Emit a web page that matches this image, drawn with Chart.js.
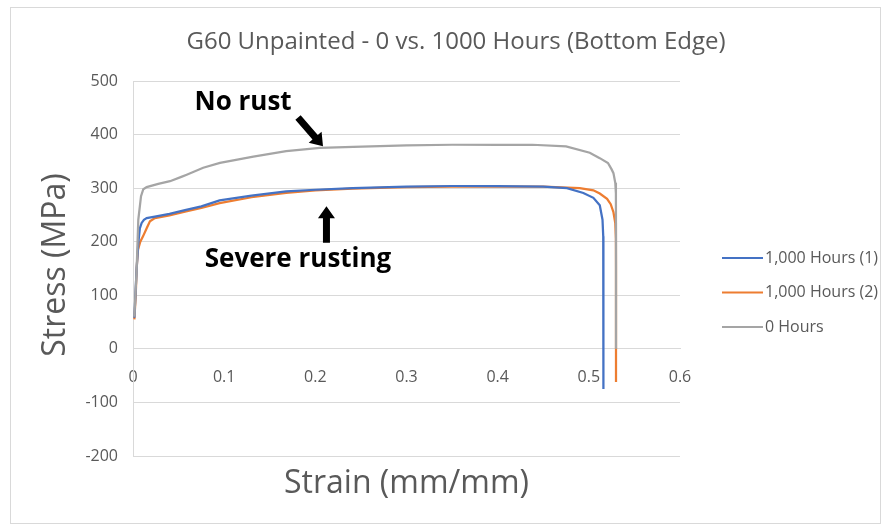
<!DOCTYPE html>
<html>
<head>
<meta charset="utf-8">
<script src="https://cdn.jsdelivr.net/npm/chart.js@4/dist/chart.umd.min.js"></script>
<style>
  html, body { margin: 0; padding: 0; background: #fff; }
  #wrap { position: relative; width: 886px; height: 525px; }
</style>
</head>
<body>
<div id="wrap"><canvas id="c"></canvas></div>
<script>
const TITLE = "G60 Unpainted - 0 vs. 1000 Hours (Bottom Edge)";
const X_TITLE = "Strain (mm/mm)";
const Y_TITLE = "Stress (MPa)";
const SERIES_NAMES = ["1,000 Hours (1)", "1,000 Hours (2)", "0 Hours"];

// 1,000 hours, specimen 1 (blue)
const strainH1 = [0.0015, 0.004, 0.0058, 0.0075, 0.0095, 0.012, 0.015, 0.024, 0.04, 0.057, 0.075, 0.095, 0.13, 0.168, 0.2, 0.241, 0.3, 0.35, 0.4, 0.45, 0.476, 0.494, 0.505, 0.512, 0.515, 0.5158, 0.516, 0.516];
const stressH1 = [58, 150, 197, 225, 235, 241, 244, 247, 252, 259, 266, 277, 286, 294, 297, 300, 303, 304, 304, 303, 300, 291, 282, 268, 241, 210, 150, -75];

// 1,000 hours, specimen 2 (orange)
const strainH2 = [0.0015, 0.003, 0.004, 0.0055, 0.008, 0.011, 0.015, 0.0186, 0.024, 0.04, 0.057, 0.075, 0.095, 0.13, 0.168, 0.2, 0.241, 0.3, 0.35, 0.4, 0.45, 0.49, 0.505, 0.512, 0.52, 0.524, 0.527, 0.529, 0.5297, 0.5298, 0.5298];
const stressH2 = [55, 100, 150, 185, 200, 210, 225, 238, 244, 249, 256, 263, 272, 283, 291, 296, 299, 302, 303, 303, 303, 300, 296, 290, 280, 270, 255, 235, 205, 150, -62];

// 0 hours (gray)
const strainH0 = [0.0015, 0.004, 0.0058, 0.0088, 0.0113, 0.015, 0.0277, 0.0406, 0.053, 0.0589, 0.077, 0.0954, 0.132, 0.168, 0.205, 0.2416, 0.3, 0.35, 0.4, 0.438, 0.475, 0.501, 0.512, 0.521, 0.525, 0.527, 0.529, 0.5297, 0.5298, 0.5298];
const stressH0 = [60, 148, 241, 285, 298, 302, 308, 313, 321, 325, 338, 347, 359, 369, 375, 377, 380, 381, 381, 381, 378, 366, 356, 347, 335, 328, 310, 290, 200, 0];

const FONT = "'Open Sans', sans-serif";
const TEXT = "#595959";
const GRID = "#d9d9d9";
const COLORS = ["#4472c4", "#ed7d31", "#a5a5a5"];

const pts = (xs, ys) => xs.map((x, i) => ({ x, y: ys[i] }));

// callouts, anchored in data units
const notes = [
  { text: "No rust", x: 0.1207, y: 460 },
  { text: "Severe rusting", x: 0.181, y: 166 },
];
const arrows = [
  { from: [0.181, 432], to: [0.2084, 378] },
  { from: [0.2122, 198], to: [0.2122, 266] },
];

const frame = {
  id: "frame",
  beforeDraw(chart) {
    const { ctx } = chart;
    ctx.save();
    ctx.fillStyle = "#fff";
    ctx.fillRect(0, 0, chart.width, chart.height);
    ctx.strokeStyle = GRID;
    ctx.lineWidth = 1;
    ctx.strokeRect(10.5, 7.5, 870, 516);
    ctx.restore();
  },
};

// chart title + axis titles (Excel places them off-centre, so drawn here)
const titles = {
  id: "titles",
  afterDraw(chart) {
    const { ctx, chartArea: a } = chart;
    ctx.save();
    ctx.fillStyle = TEXT;
    ctx.textAlign = "center";
    ctx.textBaseline = "middle";
    ctx.font = "24px " + FONT;
    ctx.fillText(TITLE, 456, 42);
    ctx.font = "32px " + FONT;
    ctx.fillText(X_TITLE, (a.left + a.right) / 2, a.bottom + 28);
    ctx.translate(56, 265);
    ctx.rotate(-Math.PI / 2);
    ctx.fillText(Y_TITLE, 0, 0);
    ctx.restore();
  },
};

const sideLegend = {
  id: "sideLegend",
  afterDraw(chart) {
    const { ctx, chartArea: a } = chart;
    ctx.save();
    ctx.font = "16px " + FONT;
    ctx.textBaseline = "middle";
    chart.data.datasets.forEach((ds, i) => {
      const y = 258 + i * 34.5;
      const x = a.right + 42;
      ctx.strokeStyle = ds.borderColor;
      ctx.lineWidth = 2;
      ctx.beginPath();
      ctx.moveTo(x, y);
      ctx.lineTo(x + 41, y);
      ctx.stroke();
      ctx.fillStyle = TEXT;
      ctx.fillText(ds.label, x + 43, y);
    });
    ctx.restore();
  },
};

function blockArrow(ctx, x0, y0, x1, y1) {
  const ang = Math.atan2(y1 - y0, x1 - x0);
  const len = Math.hypot(x1 - x0, y1 - y0);
  const shaft = 3.5, head = 8.5, headLen = 12;
  ctx.save();
  ctx.translate(x0, y0);
  ctx.rotate(ang);
  ctx.beginPath();
  ctx.moveTo(0, -shaft);
  ctx.lineTo(len - headLen, -shaft);
  ctx.lineTo(len - headLen, -head);
  ctx.lineTo(len, 0);
  ctx.lineTo(len - headLen, head);
  ctx.lineTo(len - headLen, shaft);
  ctx.lineTo(0, shaft);
  ctx.closePath();
  ctx.fill();
  ctx.restore();
}

const callouts = {
  id: "callouts",
  afterDraw(chart) {
    const { ctx, scales: { x, y } } = chart;
    ctx.save();
    ctx.fillStyle = "#000";
    ctx.font = "bold 26px " + FONT;
    ctx.textAlign = "center";
    ctx.textBaseline = "middle";
    notes.forEach((n) => ctx.fillText(n.text, x.getPixelForValue(n.x), y.getPixelForValue(n.y)));
    arrows.forEach((r) => blockArrow(ctx,
      x.getPixelForValue(r.from[0]), y.getPixelForValue(r.from[1]),
      x.getPixelForValue(r.to[0]), y.getPixelForValue(r.to[1])));
    ctx.restore();
  },
};

new Chart(document.getElementById("c"), {
  type: "line",
  data: {
    datasets: [
      { label: SERIES_NAMES[0], data: pts(strainH1, stressH1), borderColor: COLORS[0], order: 1 },
      { label: SERIES_NAMES[1], data: pts(strainH2, stressH2), borderColor: COLORS[1], order: 2 },
      { label: SERIES_NAMES[2], data: pts(strainH0, stressH0), borderColor: COLORS[2], order: 0 },
    ],
  },
  options: {
    responsive: true,
    maintainAspectRatio: false,
    animation: false,
    devicePixelRatio: 1,
    layout: { padding: { left: 0, right: 206, top: 81, bottom: 69 } },
    elements: {
      line: { borderWidth: 2.25, tension: 0, fill: false },
      point: { radius: 0, hoverRadius: 0 },
    },
    plugins: {
      legend: { display: false },
      tooltip: { enabled: false },
    },
    scales: {
      x: {
        type: "linear",
        position: { y: 0 },
        min: 0,
        max: 0.6,
        grid: { display: false },
        border: { display: true, color: GRID },
        ticks: { stepSize: 0.1, color: TEXT, padding: 11, font: { family: FONT, size: 16 } },
      },
      y: {
        type: "linear",
        position: "left",
        min: -200,
        max: 500,
        grid: { color: GRID, drawTicks: false },
        border: { display: true, color: GRID },
        ticks: { stepSize: 100, color: TEXT, padding: 15, font: { family: FONT, size: 16 } },
        afterFit(s) { s.width = 133; },
      },
    },
  },
  plugins: [frame, titles, sideLegend, callouts],
});
</script>
</body>
</html>
